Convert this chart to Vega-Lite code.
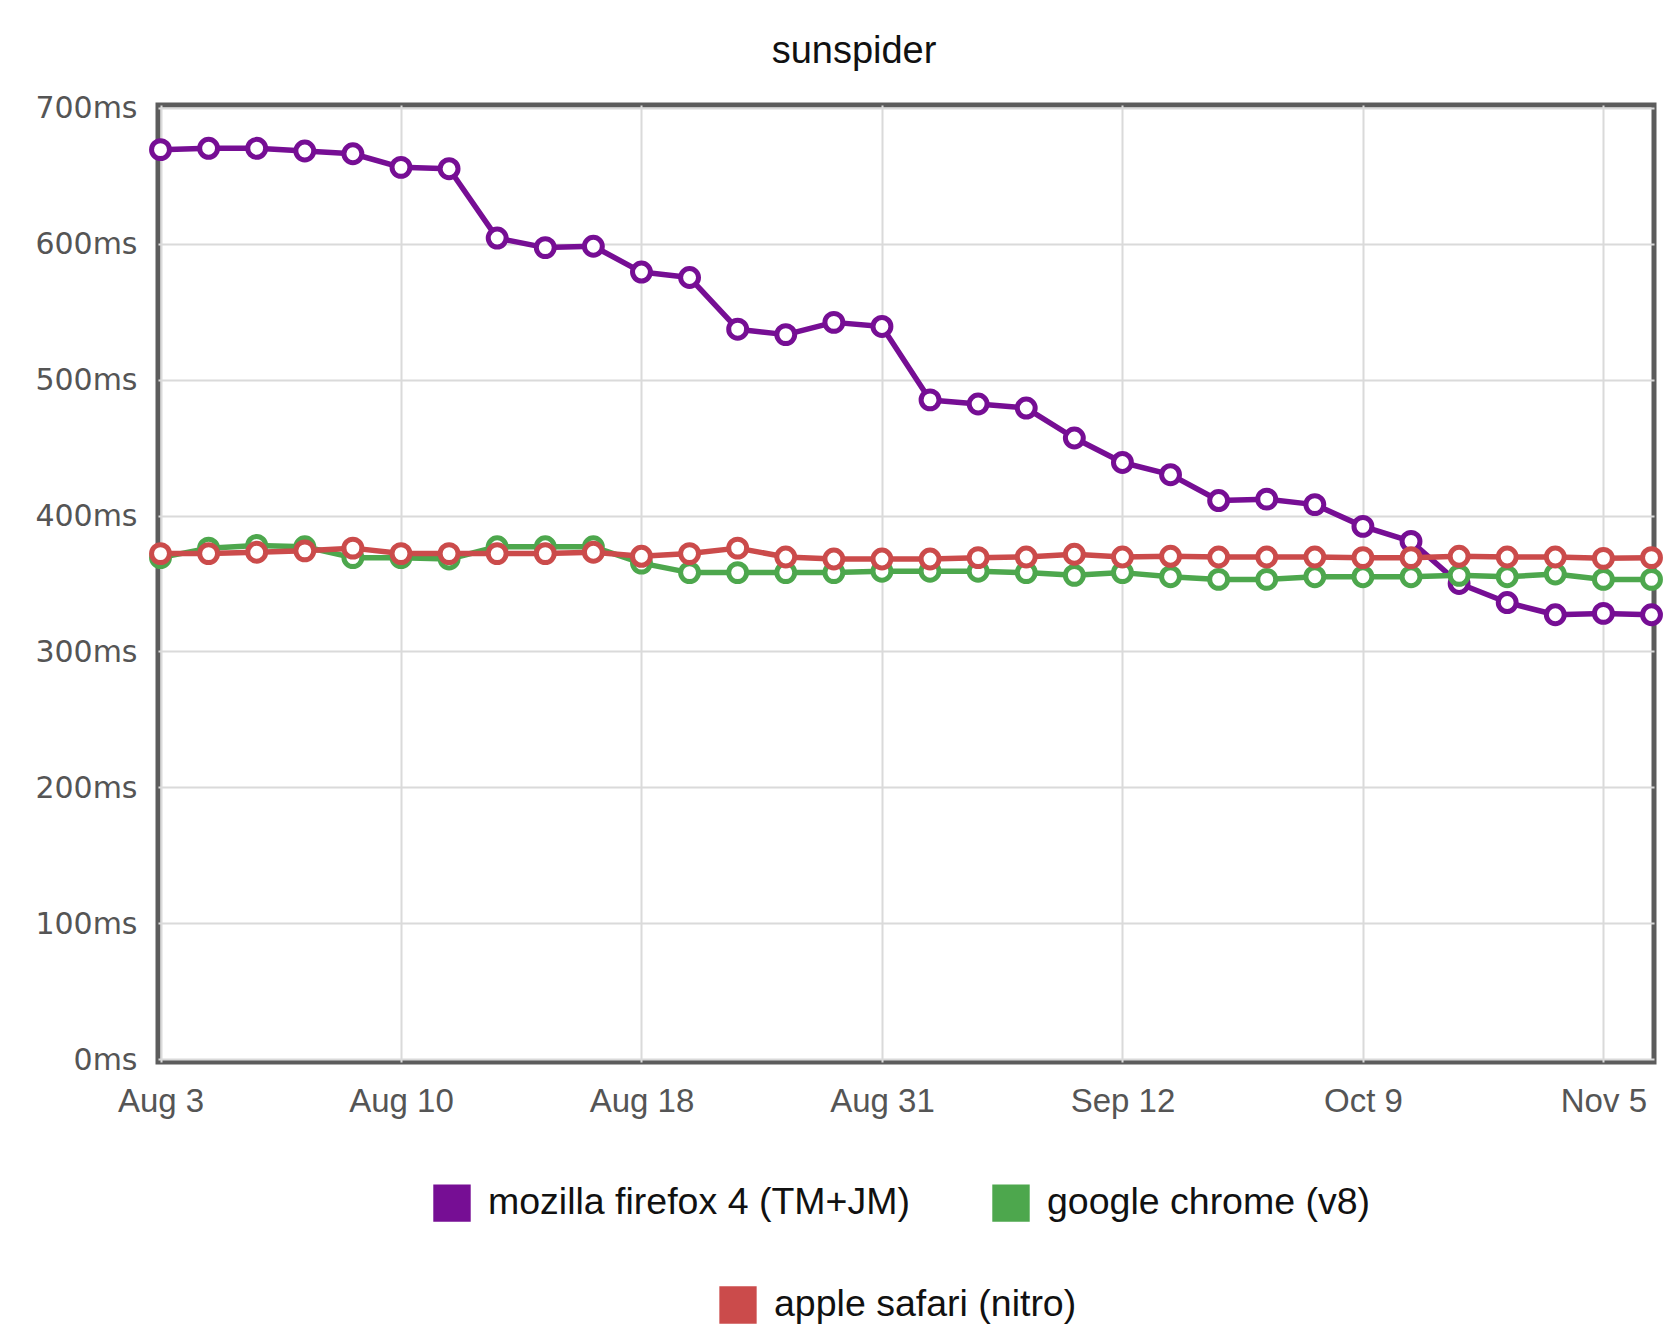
{
  "$schema": "https://vega.github.io/schema/vega-lite/v6.json",
  "width": 1496,
  "height": 957,
  "autosize": "none",
  "padding": {"left": 158, "top": 105, "right": 22, "bottom": 282},
  "background": "white",
  "title": {"text": "sunspider", "font": "Liberation Sans", "fontSize": 38, "fontWeight": "normal", "color": "#111111", "anchor": "middle", "frame": "group", "dx": -52, "offset": -7.5, "baseline": "alphabetic"},
  "config": {
    "view": {"stroke": "#5c5c5c", "strokeWidth": 5},
    "axis": {"domain": false, "ticks": false, "gridColor": "#dadada", "gridWidth": 2, "labelColor": "#555555", "title": null}
  },
  "data": {"values": [
    {"run": 0, "browser": "mozilla firefox 4 (TM+JM)", "ms": 669},
    {"run": 1, "browser": "mozilla firefox 4 (TM+JM)", "ms": 670},
    {"run": 2, "browser": "mozilla firefox 4 (TM+JM)", "ms": 670},
    {"run": 3, "browser": "mozilla firefox 4 (TM+JM)", "ms": 668},
    {"run": 4, "browser": "mozilla firefox 4 (TM+JM)", "ms": 666},
    {"run": 5, "browser": "mozilla firefox 4 (TM+JM)", "ms": 656},
    {"run": 6, "browser": "mozilla firefox 4 (TM+JM)", "ms": 655},
    {"run": 7, "browser": "mozilla firefox 4 (TM+JM)", "ms": 604},
    {"run": 8, "browser": "mozilla firefox 4 (TM+JM)", "ms": 597},
    {"run": 9, "browser": "mozilla firefox 4 (TM+JM)", "ms": 598},
    {"run": 10, "browser": "mozilla firefox 4 (TM+JM)", "ms": 579},
    {"run": 11, "browser": "mozilla firefox 4 (TM+JM)", "ms": 575},
    {"run": 12, "browser": "mozilla firefox 4 (TM+JM)", "ms": 537},
    {"run": 13, "browser": "mozilla firefox 4 (TM+JM)", "ms": 533},
    {"run": 14, "browser": "mozilla firefox 4 (TM+JM)", "ms": 542},
    {"run": 15, "browser": "mozilla firefox 4 (TM+JM)", "ms": 539},
    {"run": 16, "browser": "mozilla firefox 4 (TM+JM)", "ms": 485},
    {"run": 17, "browser": "mozilla firefox 4 (TM+JM)", "ms": 482},
    {"run": 18, "browser": "mozilla firefox 4 (TM+JM)", "ms": 479},
    {"run": 19, "browser": "mozilla firefox 4 (TM+JM)", "ms": 457},
    {"run": 20, "browser": "mozilla firefox 4 (TM+JM)", "ms": 439},
    {"run": 21, "browser": "mozilla firefox 4 (TM+JM)", "ms": 430},
    {"run": 22, "browser": "mozilla firefox 4 (TM+JM)", "ms": 411},
    {"run": 23, "browser": "mozilla firefox 4 (TM+JM)", "ms": 412},
    {"run": 24, "browser": "mozilla firefox 4 (TM+JM)", "ms": 408},
    {"run": 25, "browser": "mozilla firefox 4 (TM+JM)", "ms": 392},
    {"run": 26, "browser": "mozilla firefox 4 (TM+JM)", "ms": 381},
    {"run": 27, "browser": "mozilla firefox 4 (TM+JM)", "ms": 350},
    {"run": 28, "browser": "mozilla firefox 4 (TM+JM)", "ms": 336},
    {"run": 29, "browser": "mozilla firefox 4 (TM+JM)", "ms": 327},
    {"run": 30, "browser": "mozilla firefox 4 (TM+JM)", "ms": 328},
    {"run": 31, "browser": "mozilla firefox 4 (TM+JM)", "ms": 327},
    {"run": 0, "browser": "google chrome (v8)", "ms": 369},
    {"run": 1, "browser": "google chrome (v8)", "ms": 376},
    {"run": 2, "browser": "google chrome (v8)", "ms": 378},
    {"run": 3, "browser": "google chrome (v8)", "ms": 377},
    {"run": 4, "browser": "google chrome (v8)", "ms": 369},
    {"run": 5, "browser": "google chrome (v8)", "ms": 369},
    {"run": 6, "browser": "google chrome (v8)", "ms": 368},
    {"run": 7, "browser": "google chrome (v8)", "ms": 377},
    {"run": 8, "browser": "google chrome (v8)", "ms": 377},
    {"run": 9, "browser": "google chrome (v8)", "ms": 377},
    {"run": 10, "browser": "google chrome (v8)", "ms": 365},
    {"run": 11, "browser": "google chrome (v8)", "ms": 358},
    {"run": 12, "browser": "google chrome (v8)", "ms": 358},
    {"run": 13, "browser": "google chrome (v8)", "ms": 358},
    {"run": 14, "browser": "google chrome (v8)", "ms": 358},
    {"run": 15, "browser": "google chrome (v8)", "ms": 359},
    {"run": 16, "browser": "google chrome (v8)", "ms": 359},
    {"run": 17, "browser": "google chrome (v8)", "ms": 359},
    {"run": 18, "browser": "google chrome (v8)", "ms": 358},
    {"run": 19, "browser": "google chrome (v8)", "ms": 356},
    {"run": 20, "browser": "google chrome (v8)", "ms": 358},
    {"run": 21, "browser": "google chrome (v8)", "ms": 355},
    {"run": 22, "browser": "google chrome (v8)", "ms": 353},
    {"run": 23, "browser": "google chrome (v8)", "ms": 353},
    {"run": 24, "browser": "google chrome (v8)", "ms": 355},
    {"run": 25, "browser": "google chrome (v8)", "ms": 355},
    {"run": 26, "browser": "google chrome (v8)", "ms": 355},
    {"run": 27, "browser": "google chrome (v8)", "ms": 356},
    {"run": 28, "browser": "google chrome (v8)", "ms": 355},
    {"run": 29, "browser": "google chrome (v8)", "ms": 357},
    {"run": 30, "browser": "google chrome (v8)", "ms": 353},
    {"run": 31, "browser": "google chrome (v8)", "ms": 353},
    {"run": 0, "browser": "apple safari (nitro)", "ms": 372},
    {"run": 1, "browser": "apple safari (nitro)", "ms": 372},
    {"run": 2, "browser": "apple safari (nitro)", "ms": 373},
    {"run": 3, "browser": "apple safari (nitro)", "ms": 374},
    {"run": 4, "browser": "apple safari (nitro)", "ms": 376},
    {"run": 5, "browser": "apple safari (nitro)", "ms": 372},
    {"run": 6, "browser": "apple safari (nitro)", "ms": 372},
    {"run": 7, "browser": "apple safari (nitro)", "ms": 372},
    {"run": 8, "browser": "apple safari (nitro)", "ms": 372},
    {"run": 9, "browser": "apple safari (nitro)", "ms": 373},
    {"run": 10, "browser": "apple safari (nitro)", "ms": 370},
    {"run": 11, "browser": "apple safari (nitro)", "ms": 372},
    {"run": 12, "browser": "apple safari (nitro)", "ms": 376},
    {"run": 13, "browser": "apple safari (nitro)", "ms": 369.5},
    {"run": 14, "browser": "apple safari (nitro)", "ms": 368},
    {"run": 15, "browser": "apple safari (nitro)", "ms": 368},
    {"run": 16, "browser": "apple safari (nitro)", "ms": 368},
    {"run": 17, "browser": "apple safari (nitro)", "ms": 369},
    {"run": 18, "browser": "apple safari (nitro)", "ms": 369.5},
    {"run": 19, "browser": "apple safari (nitro)", "ms": 371.5},
    {"run": 20, "browser": "apple safari (nitro)", "ms": 369.5},
    {"run": 21, "browser": "apple safari (nitro)", "ms": 370},
    {"run": 22, "browser": "apple safari (nitro)", "ms": 369.5},
    {"run": 23, "browser": "apple safari (nitro)", "ms": 369.5},
    {"run": 24, "browser": "apple safari (nitro)", "ms": 369.5},
    {"run": 25, "browser": "apple safari (nitro)", "ms": 369},
    {"run": 26, "browser": "apple safari (nitro)", "ms": 369},
    {"run": 27, "browser": "apple safari (nitro)", "ms": 370},
    {"run": 28, "browser": "apple safari (nitro)", "ms": 369.5},
    {"run": 29, "browser": "apple safari (nitro)", "ms": 369.5},
    {"run": 30, "browser": "apple safari (nitro)", "ms": 368.5},
    {"run": 31, "browser": "apple safari (nitro)", "ms": 369}
  ]},
  "encoding": {
    "x": {
      "field": "run", "type": "ordinal",
      "scale": {"type": "point", "padding": 0.052},
      "axis": {
        "values": [0, 5, 10, 15, 20, 25, 30],
        "labelExpr": "datum.value == 0 ? 'Aug 3' : datum.value == 5 ? 'Aug 10' : datum.value == 10 ? 'Aug 18' : datum.value == 15 ? 'Aug 31' : datum.value == 20 ? 'Sep 12' : datum.value == 25 ? 'Oct 9' : 'Nov 5'",
        "labelAngle": 0,
        "labelFont": "Liberation Sans", "labelFontSize": 33, "labelPadding": 23,
        "grid": true
      }
    },
    "y": {
      "field": "ms", "type": "quantitative",
      "scale": {"domain": [-1.84, 701.84], "nice": false, "zero": false},
      "axis": {
        "values": [0, 100, 200, 300, 400, 500, 600, 700],
        "labelExpr": "datum.value + 'ms'",
        "labelFont": "DejaVu Sans", "labelFontSize": 30, "labelPadding": 21, "labelOffset": 1,
        "grid": true
      }
    }
  },
  "layer": [
    {
      "mark": {"type": "line", "strokeWidth": 5.5, "strokeJoin": "round", "strokeCap": "round"},
      "encoding": {
        "color": {
          "field": "browser", "type": "nominal",
          "scale": {"domain": ["mozilla firefox 4 (TM+JM)", "google chrome (v8)", "apple safari (nitro)"], "range": ["#760e94", "#4da74d", "#cb4b4b"]},
          "legend": {
            "orient": "none", "legendX": 275, "legendY": 1079, "direction": "horizontal", "title": null,
            "values": ["mozilla firefox 4 (TM+JM)", "google chrome (v8)"],
            "symbolType": "square", "symbolSize": 1400, "symbolStrokeWidth": 0,
            "labelFont": "Liberation Sans", "labelFontSize": 37.5, "labelColor": "#111111", "labelOffset": 17, "labelLimit": 1000,
            "columnPadding": 82, "padding": 0,
            "encode": {"symbols": {"update": {"fill": {"scale": "color", "field": "value"}, "fillOpacity": {"value": 1}, "opacity": {"value": 1}, "strokeWidth": {"value": 0}}}}
          }
        }
      }
    },
    {
      "mark": {"type": "point", "shape": "circle", "filled": true, "fill": "white", "fillOpacity": 1, "opacity": 1, "size": 320, "strokeWidth": 5},
      "encoding": {
        "stroke": {
          "field": "browser", "type": "nominal",
          "scale": {"domain": ["apple safari (nitro)", "mozilla firefox 4 (TM+JM)", "google chrome (v8)"], "range": ["#cb4b4b", "#760e94", "#4da74d"]},
          "legend": {
            "orient": "none", "legendX": 561, "legendY": 1181, "direction": "horizontal", "title": null,
            "values": ["apple safari (nitro)"],
            "symbolType": "square", "symbolSize": 300, "symbolStrokeWidth": 20,
            "labelFont": "Liberation Sans", "labelFontSize": 37.5, "labelColor": "#111111", "labelOffset": 17, "labelLimit": 1000,
            "padding": 0,
            "encode": {"symbols": {"update": {"fill": {"value": "#cb4b4b"}, "stroke": {"value": "#cb4b4b"}, "strokeWidth": {"value": 20}, "fillOpacity": {"value": 1}, "strokeOpacity": {"value": 1}, "opacity": {"value": 1}}}}
          }
        }
      }
    }
  ]
}
